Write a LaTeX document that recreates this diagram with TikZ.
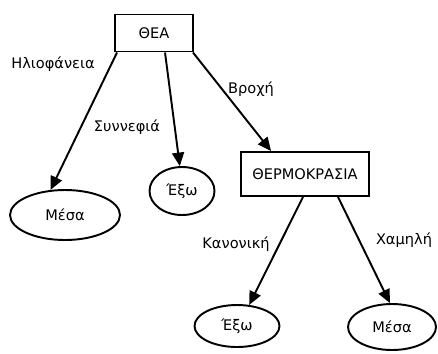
\documentclass[tikz,border=0pt]{standalone}
\usepackage{fontspec}
\setmainfont{DejaVu Sans}
\usetikzlibrary{shapes,shapes.geometric,arrows.meta}

\begin{document}
\begin{tikzpicture}[scale=1.0000]
	\tikzstyle{every node}=[font=\fontsize{8.3}{10}\selectfont]
	\tikzstyle{test}=[draw, line width = 1.1000pt, rectangle]
	\tikzstyle{leaf}=[draw, line width = 1.1000pt, ellipse, inner sep=0pt]
	\tikzstyle{branch}=[-{Triangle[length=0.2700cm, width=0.2400cm]}, line width = 1.1000pt]

	%%frame of the picture
	\useasboundingbox (0.0000,0.0000) rectangle (8.7600,7.0600);

	%%nodes
	\node [test, minimum width=1.5600cm, minimum height=0.7400cm] (thea) at (3.0800,6.4000) {ΘΕΑ};
	\node [test, minimum width=2.5600cm, minimum height=0.8800cm] (therm) at (6.1000,3.5800) {ΘΕΡΜΟΚΡΑΣΙΑ};
	\node [leaf, minimum width=2.2000cm, minimum height=1.0000cm] (mesaA) at (1.3000,2.7600) {Μέσα};
	\node [leaf, minimum width=1.3000cm, minimum height=0.9600cm] (exoA) at (3.6400,3.2400) {Έξω};
	\node [leaf, minimum width=1.7000cm, minimum height=0.8400cm] (exoB) at (4.7400,0.5400) {Έξω};
	\node [leaf, minimum width=1.7600cm, minimum height=0.9200cm] (mesaB) at (7.8400,0.5200) {Μέσα};

	%%branch labels
	\node (lblA) at (1.0600,5.7800) {Ηλιοφάνεια};
	\node (lblB) at (2.5400,4.5200) {Συννεφιά};
	\node (lblC) at (5.0200,5.2800) {Βροχή};
	\node (lblD) at (4.7200,2.1800) {Κανονική};
	\node (lblE) at (8.0800,2.2600) {Χαμηλή};

	%%branches
	\draw [branch] ([xshift=0.0600cm]thea.south west) -- (mesaA.120);
	\draw [branch] ([xshift=0.2200cm]thea.south) -- (exoA.95);
	\draw [branch] ([xshift=-0.0200cm]thea.south east) -- ([xshift=0.6200cm]therm.north west);
	\draw [branch] ([xshift=-0.0400cm]therm.south) -- (exoB.60);
	\draw [branch] ([xshift=0.6600cm]therm.south) -- (mesaB.95);

\end{tikzpicture}
\end{document}
